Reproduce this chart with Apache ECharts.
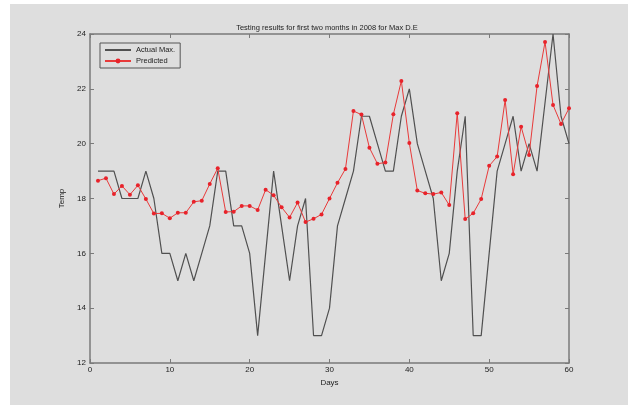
<!DOCTYPE html>
<html>
<head>
<meta charset="utf-8">
<script src="https://cdn.jsdelivr.net/npm/echarts@6/dist/echarts.min.js"></script>
<style>
html,body{margin:0;padding:0;background:#fff;}
#c{width:628px;height:405px;}
</style>
</head>
<body>
<div id="c"></div>
<script>
var days = [1,2,3,4,5,6,7,8,9,10,11,12,13,14,15,16,17,18,19,20,21,22,23,24,25,26,27,28,29,30,31,32,33,34,35,36,37,38,39,40,41,42,43,44,45,46,47,48,49,50,51,52,53,54,55,56,57,58,59,60];
var actualMax = [19,19,19,18,18,18,19,18,16,16,
                 15,16,15,16,17,19,19,17,17,16,
                 13,16,19,17,15,17,18,13,13,14,
                 17,18,19,21,21,20,19,19,21,22,
                 20,19,18,15,16,19,21,13,13,16,
                 19,20,21,19,20,19,21.5,24,21,20];
var predicted = [18.65,18.74,18.16,18.46,18.14,18.48,17.98,17.45,17.46,17.28,
                 17.48,17.48,17.88,17.92,18.53,19.1,17.51,17.52,17.73,17.73,
                 17.58,18.32,18.12,17.68,17.31,17.85,17.14,17.26,17.42,18.0,
                 18.57,19.08,21.19,21.06,19.85,19.27,19.31,21.07,22.29,20.02,
                 18.29,18.19,18.16,18.22,17.76,21.11,17.25,17.46,17.98,19.19,
                 19.53,21.59,18.88,20.62,19.59,22.1,23.71,21.41,20.72,21.29];
var titleText = 'Testing results for first two months in 2008 for Max D.E';
var xName = 'Days', yName = 'Temp';
var seriesNames = ['Actual Max.', 'Predicted'];

function pairs(xs, ys){ return xs.map(function(x,i){ return [x, ys[i]]; }); }

var chart = echarts.init(document.getElementById('c'), null, {renderer:'canvas'});
var axisCol = '#7a7a7a';
var font = 'Liberation Sans, Arial, sans-serif';
var xBase = {type:'value', min:0, max:60, interval:10,
  axisLine:{show:true, onZero:false, lineStyle:{color:axisCol, width:1.5}},
  axisTick:{show:true, inside:true, length:4, lineStyle:{color:axisCol}},
  splitLine:{show:false}};
var yBase = {type:'value', min:12, max:24, interval:2,
  axisLine:{show:true, onZero:false, lineStyle:{color:axisCol, width:1.5}},
  axisTick:{show:true, inside:true, length:4, lineStyle:{color:axisCol}},
  splitLine:{show:false}};

chart.setOption({
  backgroundColor:'#ffffff',
  animation:false,
  graphic:[{type:'rect', z:-10, shape:{x:10, y:4, width:618, height:401}, style:{fill:'#dedede'}}],
  title:{text:titleText, left:322, top:19, textAlign:'center',
    textStyle:{fontSize:7.5, fontWeight:'normal', color:'#222', fontFamily:font}},
  grid:{left:90, right:59, top:34, bottom:42, show:false},
  legend:{show:true, left:100, top:43, orient:'vertical', itemGap:3, itemWidth:26, itemHeight:6,
    padding:[3,5,3,4], borderColor:'#555', borderWidth:1, backgroundColor:'#dedede',
    textStyle:{fontSize:7.5, color:'#222', fontFamily:font},
    data:[{name:seriesNames[0], itemStyle:{opacity:0}}, {name:seriesNames[1]}]},
  xAxis:[
    Object.assign({}, xBase, {position:'bottom', name:xName, nameLocation:'middle', nameGap:13,
      nameTextStyle:{fontSize:8, color:'#222', fontFamily:font},
      axisLabel:{fontSize:8, color:'#222', margin:3, fontFamily:font}}),
    Object.assign({}, xBase, {position:'top', axisLabel:{show:false}})
  ],
  yAxis:[
    Object.assign({}, yBase, {position:'left', name:yName, nameLocation:'middle', nameGap:17,
      nameRotate:90, nameTextStyle:{fontSize:8, color:'#222', fontFamily:font},
      axisLabel:{fontSize:8, color:'#222', margin:4, fontFamily:font}}),
    Object.assign({}, yBase, {position:'right', axisLabel:{show:false}})
  ],
  series:[
    {name:seriesNames[0], type:'line', data:pairs(days, actualMax), showSymbol:false, symbol:'none',
      lineStyle:{color:'#505050', width:1.2}, itemStyle:{color:'#505050'}},
    {name:seriesNames[1], type:'line', data:pairs(days, predicted), symbol:'circle', symbolSize:4,
      lineStyle:{color:'#e83a3a', width:1}, itemStyle:{color:'#e8222a'}}
  ]
});
</script>
</body>
</html>
